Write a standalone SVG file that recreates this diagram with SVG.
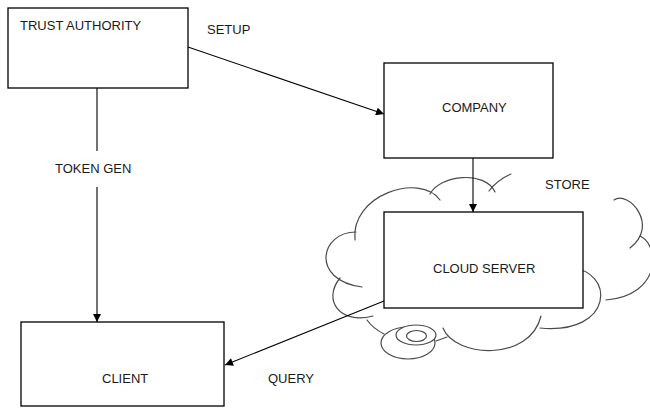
<svg xmlns="http://www.w3.org/2000/svg" width="650" height="410" viewBox="0 0 650 410">
  <style>
    .box { fill: #ffffff; stroke: #000000; stroke-width: 1.3; }
    .lbl { font-family: "Liberation Sans", Arial, sans-serif; font-size: 13px; fill: #1a1a1a; }
    .edge { fill: none; stroke: #000000; stroke-width: 1.1; marker-end: url(#arrow); }
    .cloud { fill: none; stroke: #4a4a4a; stroke-width: 1.2; stroke-linecap: round; }
  </style>
  <defs>
    <marker id="arrow" viewBox="0 0 10 10" refX="10" refY="5" markerWidth="9" markerHeight="8" markerUnits="userSpaceOnUse" orient="auto">
      <path d="M0,0 L10,5 L0,10 Z" fill="#000000"/>
    </marker>
  </defs>

  <rect width="650" height="410" fill="#ffffff"/>

  <!-- cloud outline around the server -->
  <g id="cloud" class="cloud">
    <path d="M355,240 C350,195 420,172 440,200"/>
    <path d="M430,194 C440,175 485,170 495,192"/>
    <path d="M489,191 C495,183 502,178 511,174"/>
    <path d="M614,200 C628,190 660,225 630,248"/>
    <path d="M640,236 C660,245 662,295 606,300"/>
    <path d="M570,268 C615,270 615,335 540,328"/>
    <path d="M443,328 C455,358 530,362 541,316"/>
    <path d="M447,337 L436,341"/>
    <ellipse cx="408" cy="343" rx="27" ry="16"/>
    <ellipse cx="416" cy="335" rx="20" ry="10" fill="#ffffff"/>
    <ellipse cx="416.5" cy="336" rx="10" ry="5.5"/>
    <path d="M367,320 C372,327 378,331 384,334"/>
    <path d="M340,278 C322,300 340,325 373,316"/>
    <path d="M356,232 C320,232 310,280 362,287"/>
  </g>

  <g id="trust-authority">
    <rect class="box" x="8" y="8" width="180" height="80"/>
    <text class="lbl" x="20" y="30">TRUST AUTHORITY</text>
  </g>

  <g id="company">
    <rect class="box" x="384" y="63" width="169" height="95"/>
    <text class="lbl" x="442" y="112">COMPANY</text>
  </g>

  <g id="cloud-server">
    <rect class="box" x="384" y="212" width="199" height="96"/>
    <text class="lbl" x="433" y="273">CLOUD SERVER</text>
  </g>

  <g id="client">
    <rect class="box" x="21" y="322" width="203" height="84"/>
    <text class="lbl" x="102" y="383">CLIENT</text>
  </g>

  <g id="connectors">
    <line class="edge" x1="188" y1="47" x2="384" y2="114"/>
    <line class="edge" x1="473" y1="158" x2="473" y2="212"/>
    <path class="edge" d="M97,88 V151 M97,187 V322"/>
    <line class="edge" x1="384" y1="301" x2="225" y2="365"/>
  </g>

  <g id="edge-labels">
    <text class="lbl" x="207" y="34">SETUP</text>
    <text class="lbl" x="55" y="173">TOKEN GEN</text>
    <text class="lbl" x="545" y="189">STORE</text>
    <text class="lbl" x="268" y="383">QUERY</text>
  </g>
</svg>
